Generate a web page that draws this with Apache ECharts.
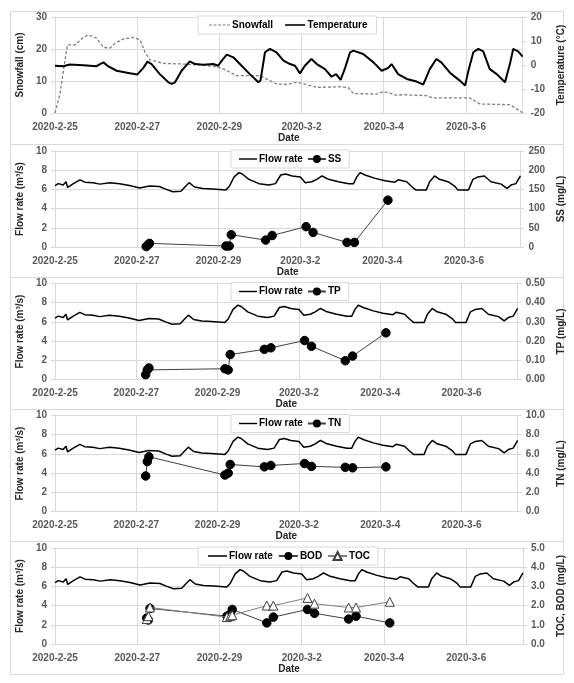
<!DOCTYPE html>
<html>
<head>
<meta charset="utf-8">
<script src="https://cdn.jsdelivr.net/npm/echarts@6/dist/echarts.min.js"></script>
<style>
  html, body { margin: 0; padding: 0; background: #fff; }
  #main { width: 574px; height: 683px; }
</style>
</head>
<body>
<div id="main"></div>
<script>
// x values are days since 2020-2-25 00:00
const dateLabels = ['2020-2-25', '2020-2-27', '2020-2-29', '2020-3-2', '2020-3-4', '2020-3-6'];
const xMax = 11.38;

const snowDays = [0, 0.12, 0.3, 0.49, 0.69, 0.81, 1.01, 1.18, 1.34, 1.46, 1.66, 1.91, 2.07, 2.19, 2.31, 2.64, 3.12, 3.53, 3.93, 4.09, 4.42, 4.99, 5.15, 5.39, 5.64, 5.88, 6.12, 6.37, 6.93, 7.14, 7.26, 7.83, 7.99, 8.31, 8.56, 9.04, 9.2, 10.1, 10.34, 11.07, 11.23, 11.38];
const snowCm = [0, 5.9, 21.3, 21.3, 23.6, 24.4, 23.4, 20.5, 20.3, 21.8, 23.1, 23.6, 22.8, 19.0, 16.6, 15.5, 15.3, 15.0, 14.5, 13.8, 11.7, 11.7, 10.6, 9.1, 8.9, 9.6, 8.9, 8.0, 8.2, 7.9, 6.1, 5.9, 6.7, 5.6, 5.7, 5.4, 4.7, 4.7, 2.8, 2.6, 1.3, 0.1];

const tempDays = [0, 0.2, 0.36, 0.69, 1.01, 1.13, 1.18, 1.3, 1.5, 1.82, 2.0, 2.15, 2.25, 2.35, 2.55, 2.76, 2.84, 2.92, 3.08, 3.28, 3.41, 3.61, 3.85, 3.97, 4.06, 4.18, 4.34, 4.5, 4.74, 4.95, 5.0, 5.11, 5.23, 5.39, 5.56, 5.72, 5.84, 5.96, 6.08, 6.24, 6.37, 6.57, 6.73, 6.84, 6.95, 7.06, 7.18, 7.26, 7.5, 7.75, 7.95, 8.11, 8.19, 8.35, 8.56, 8.8, 8.96, 9.12, 9.28, 9.4, 9.61, 9.85, 9.98, 10.06, 10.18, 10.3, 10.42, 10.58, 10.75, 10.95, 11.07, 11.15, 11.27, 11.38];
const tempC = [-0.3, -0.5, 0.2, -0.1, -0.5, 0.7, 1.1, -0.6, -2.4, -3.4, -4.0, -1.2, 1.4, 0.4, -3.8, -7.2, -7.9, -7.2, -2.4, 1.5, 0.4, 0.1, 0.4, -0.3, 1.8, 4.3, 3.2, 0.4, -3.8, -7.2, -6.5, 5.3, 6.7, 5.3, 1.8, 0.4, -0.3, -3.5, -0.3, 2.5, 0.4, -1.7, -4.9, -3.8, -6.2, -1.2, 5.3, 6.0, 4.6, 1.1, -2.4, -1.2, 0.4, -3.8, -5.8, -6.9, -8.2, -1.7, 2.5, 1.1, -3.2, -6.5, -8.6, -2.4, 5.3, 6.7, 5.7, -1.7, -3.8, -7.2, 0.4, 6.7, 5.7, 3.5];

const flowDays = [0, 0.08, 0.2, 0.27, 0.31, 0.45, 0.61, 0.73, 0.93, 1.1, 1.34, 1.58, 1.82, 2.07, 2.31, 2.55, 2.72, 2.88, 3.08, 3.2, 3.28, 3.41, 3.61, 3.85, 4.18, 4.26, 4.38, 4.5, 4.58, 4.74, 4.99, 5.23, 5.39, 5.52, 5.64, 5.8, 6.0, 6.12, 6.28, 6.4, 6.53, 6.69, 6.93, 7.18, 7.3, 7.38, 7.46, 7.58, 7.83, 8.07, 8.31, 8.39, 8.6, 8.72, 8.82, 9.08, 9.16, 9.28, 9.4, 9.61, 9.77, 9.85, 10.11, 10.22, 10.34, 10.5, 10.66, 10.91, 11.05, 11.15, 11.27, 11.38];
const flowRate = [6.4, 6.6, 6.45, 6.8, 6.2, 6.6, 7.0, 6.75, 6.7, 6.55, 6.7, 6.6, 6.4, 6.15, 6.35, 6.3, 6.0, 5.75, 5.8, 6.35, 6.7, 6.25, 6.1, 6.05, 5.95, 6.3, 7.3, 7.75, 7.6, 7.05, 6.6, 6.45, 6.6, 7.5, 7.6, 7.4, 7.3, 6.7, 6.8, 7.05, 7.4, 7.05, 6.8, 6.6, 6.6, 7.3, 7.75, 7.5, 7.15, 6.9, 6.75, 7.0, 6.8, 6.3, 5.95, 5.95, 6.8, 7.4, 7.05, 6.8, 6.35, 5.95, 5.95, 7.05, 7.3, 7.4, 6.8, 6.55, 6.1, 6.45, 6.6, 7.4];

const sampleDays = [2.23, 2.27, 2.31, 4.18, 4.26, 4.31, 5.15, 5.31, 6.14, 6.31, 7.14, 7.32, 8.14];
const ss = [1, 5, 9.5, 2.5, 2.5, 32, 18, 30, 53, 38, 12, 12, 122];
const tp = [0.025, 0.05, 0.06, 0.056, 0.05, 0.13, 0.157, 0.165, 0.203, 0.173, 0.098, 0.122, 0.243];
const tn = [3.7, 5.2, 5.7, 3.8, 4.0, 4.9, 4.65, 4.8, 5.0, 4.7, 4.6, 4.55, 4.65];
const bod = [1.35, 1.25, 1.85, 1.45, 1.55, 1.8, 1.1, 1.4, 1.8, 1.6, 1.3, 1.45, 1.1];
const toc = [1.3, 1.45, 1.9, 1.4, 1.45, 1.5, 2.0, 2.0, 2.4, 2.1, 1.9, 1.9, 2.2];

const zip = (xs, ys) => xs.map((x, i) => [x, ys[i]]);

const FONT = '"Liberation Sans", Arial, sans-serif';
const GRID_C = '#d9d9d9';
const LABEL_C = '#595959';
const TITLE_C = '#262626';
const FS = 10;

const panelTops = [11, 144, 276.5, 408.5, 540.7];
const panelBottom = 674;
const gridTops = [17, 151, 283.5, 415.5, 548];

// legend icons: plain line and dashed line (bounds padded with moveTo)
const LINE_ICON = 'path://M0,0M20,10M0,4.2H20V5.8H0Z';
const DASH_ICON = 'path://M0,0M22,10M0,4.4H3V5.6H0ZM4.8,4.4H7.8V5.6H4.8ZM9.6,4.4H12.6V5.6H9.6ZM14.4,4.4H17.4V5.6H14.4ZM19,4.4H22V5.6H19Z';

const chart = echarts.init(document.getElementById('main'), null, { renderer: 'canvas' });

const grids = gridTops.map((t) => ({ left: 55, right: 51, top: t, height: 96 }));

const xAxes = grids.map((g, i) => ({
  type: 'value',
  gridIndex: i,
  min: 0,
  max: xMax,
  interval: 2,
  name: 'Date',
  nameLocation: 'middle',
  nameGap: 19,
  nameTextStyle: { fontFamily: FONT, fontSize: FS, fontWeight: 'bold', color: TITLE_C },
  axisLine: { show: true, lineStyle: { color: GRID_C } },
  axisTick: { show: false },
  splitLine: { show: true, lineStyle: { color: GRID_C, width: 1 } },
  axisLabel: {
    margin: 9,
    fontFamily: FONT,
    fontSize: FS,
    fontWeight: 'bold',
    color: LABEL_C,
    showMaxLabel: false,
    formatter: (v) => {
      const k = v / 2;
      return Number.isInteger(k) && dateLabels[k] ? dateLabels[k] : '';
    },
  },
}));

function yAxis(grid, side, opts) {
  const left = side === 'left';
  return Object.assign({
    type: 'value',
    gridIndex: grid,
    position: side,
    nameLocation: 'middle',
    nameRotate: 90,
    nameGap: left ? 19 : 20,
    nameTextStyle: { fontFamily: FONT, fontSize: FS, fontWeight: 'bold', color: TITLE_C },
    axisLine: { show: true, lineStyle: { color: GRID_C } },
    axisTick: { show: true, inside: false, length: 4, lineStyle: { color: GRID_C } },
    splitLine: { show: left, lineStyle: { color: GRID_C, width: 1 } },
    axisLabel: { margin: 8, fontFamily: FONT, fontSize: FS, fontWeight: 'bold', color: LABEL_C },
  }, opts);
}

const rightLabel = (digits) => ({
  margin: 8, fontFamily: FONT, fontSize: FS, fontWeight: 'bold', color: LABEL_C,
  formatter: (v) => v.toFixed(digits),
});

const flowAxis = (g) => yAxis(g, 'left', { name: 'Flow rate (m³/s)', min: 0, max: 10, interval: 2 });

const yAxes = [
  yAxis(0, 'left', { name: 'Snowfall (cm)', min: 0, max: 30, interval: 10 }),
  yAxis(0, 'right', { name: 'Temperature (°C)', min: -20, max: 20, interval: 10 }),
  flowAxis(1),
  yAxis(1, 'right', { name: 'SS (mg/L)', min: 0, max: 250, interval: 50 }),
  flowAxis(2),
  yAxis(2, 'right', { name: 'TP (mg/L)', min: 0, max: 0.5, interval: 0.1, axisLabel: rightLabel(2) }),
  flowAxis(3),
  yAxis(3, 'right', { name: 'TN (mg/L)', min: 0, max: 10, interval: 2, axisLabel: rightLabel(1) }),
  flowAxis(4),
  yAxis(4, 'right', { name: 'TOC, BOD (mg/L)', min: 0, max: 5, interval: 1, axisLabel: rightLabel(1) }),
];

const flowSeries = (g) => ({
  name: 'Flow rate',
  type: 'line',
  xAxisIndex: g,
  yAxisIndex: g * 2,
  data: zip(flowDays, flowRate),
  symbol: 'none',
  lineStyle: { color: '#000', width: 1.5 },
  itemStyle: { color: '#000' },
  silent: true,
});

const sampleSeries = (g, name, vals) => ({
  name: name,
  type: 'line',
  xAxisIndex: g,
  yAxisIndex: g * 2 + 1,
  data: zip(sampleDays, vals),
  symbol: 'circle',
  symbolSize: 8.5,
  lineStyle: { color: '#404040', width: 1 },
  itemStyle: { color: '#000', borderColor: '#000' },
  z: 3,
});

const series = [
  {
    name: 'Snowfall', type: 'line', xAxisIndex: 0, yAxisIndex: 0,
    data: zip(snowDays, snowCm), symbol: 'none',
    lineStyle: { color: '#7f7f7f', width: 1.3, type: [3, 2] },
    itemStyle: { color: '#7f7f7f' },
  },
  {
    name: 'Temperature', type: 'line', xAxisIndex: 0, yAxisIndex: 1,
    data: zip(tempDays, tempC), symbol: 'none',
    lineStyle: { color: '#000', width: 2 },
    itemStyle: { color: '#000' },
  },
  flowSeries(1), sampleSeries(1, 'SS', ss),
  flowSeries(2), sampleSeries(2, 'TP', tp),
  flowSeries(3), sampleSeries(3, 'TN', tn),
  flowSeries(4), sampleSeries(4, 'BOD', bod),
  {
    name: 'TOC', type: 'line', xAxisIndex: 4, yAxisIndex: 9,
    data: zip(sampleDays, toc), symbol: 'triangle', symbolSize: 9,
    lineStyle: { color: '#808080', width: 1 },
    itemStyle: { color: '#fff', borderColor: '#404040', borderWidth: 1 },
    z: 4,
  },
];

const legendBase = {
  orient: 'horizontal',
  backgroundColor: '#fff',
  borderColor: GRID_C,
  borderWidth: 1,
  padding: [4, 8],
  itemGap: 5,
  itemWidth: 18,
  itemHeight: 10,
  selectedMode: false,
  textStyle: { fontFamily: FONT, fontSize: FS, fontWeight: 'bold', color: '#000', padding: [0, 0, 0, -3] },
};

const flowItem = { name: 'Flow rate', icon: LINE_ICON };

const legends = [
  Object.assign({}, legendBase, {
    left: 198, top: 16, padding: [4, 9, 4, 11], itemWidth: 21, itemGap: 12,
    data: [{ name: 'Snowfall', icon: DASH_ICON }, { name: 'Temperature', icon: LINE_ICON }],
  }),
  Object.assign({}, legendBase, { left: 231, top: 150, itemGap: 4, data: [flowItem, 'SS'] }),
  Object.assign({}, legendBase, { left: 231, top: 282.5, itemGap: 4, data: [flowItem, 'TP'] }),
  Object.assign({}, legendBase, { left: 231, top: 414.5, itemGap: 4, data: [flowItem, 'TN'] }),
  Object.assign({}, legendBase, { left: 198, top: 547, padding: [4, 8, 4, 10], itemWidth: 19, data: [flowItem, 'BOD', 'TOC'] }),
];

const borders = panelTops.map((t, i) => ({
  type: 'rect',
  shape: { x: 10.5, y: Math.round(t) + 0.5, width: 553, height: Math.round(i < 4 ? panelTops[i + 1] : panelBottom) - Math.round(t) },
  style: { fill: 'none', stroke: GRID_C, lineWidth: 1 },
  z: 0,
  silent: true,
}));

chart.setOption({
  backgroundColor: '#fff',
  animation: false,
  grid: grids,
  xAxis: xAxes,
  yAxis: yAxes,
  legend: legends,
  series: series,
  graphic: borders,
});
</script>
</body>
</html>
